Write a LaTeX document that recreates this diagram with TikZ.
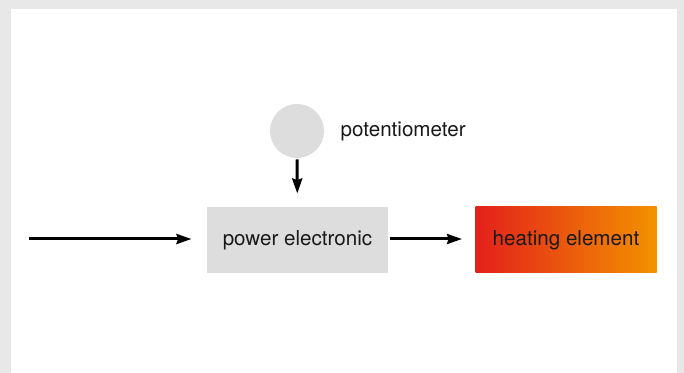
\documentclass[tikz,border=0pt]{standalone}
\usepackage{fontspec}
\setmainfont{TeX Gyre Heros}
\usetikzlibrary{arrows.meta,positioning}
\definecolor{frame}{HTML}{E8E8E8}
\definecolor{boxgray}{HTML}{DDDDDD}
\definecolor{hotred}{HTML}{E3201B}
\definecolor{hotorange}{HTML}{F39200}

\begin{document}
\begin{tikzpicture}[x=0.5pt,y=-0.5pt,->,>={Stealth[length=7.5pt,width=5pt,inset=0.8pt]},line width=1.5pt,
    font=\fontsize{10.3}{12}\selectfont]
          \tikzstyle{block}=[draw=none,fill=boxgray,minimum width=90.5pt,minimum height=33pt,inner sep=0pt,text=black!90]
          \tikzstyle{heater}=[block,left color=hotred,right color=hotorange]
          \useasboundingbox (0,0) rectangle (684,373);
          \fill[frame] (0,0) rectangle (684,373);
          \fill[white] (11,9) rectangle (677,373);
          \node[circle,fill=boxgray,minimum size=27pt,inner sep=0pt] (P) at (297,131) {};
          \node[right=3.5pt of P,text=black!90]  (L) {potentiometer};
          \node[block]  (E) at (297.5,240) {power electronic};
          \node[heater] (H) at (566,240)   {heating element};
          \coordinate (I) at (29,239);

          \draw[shorten >=7pt] (I) -- (I -| E.west);
          \draw[shorten >=6pt] (E.east |- I) -- (H.west |- I);
          \draw[shorten >=6pt] (P) -- (E);
        \end{tikzpicture}
\end{document}
